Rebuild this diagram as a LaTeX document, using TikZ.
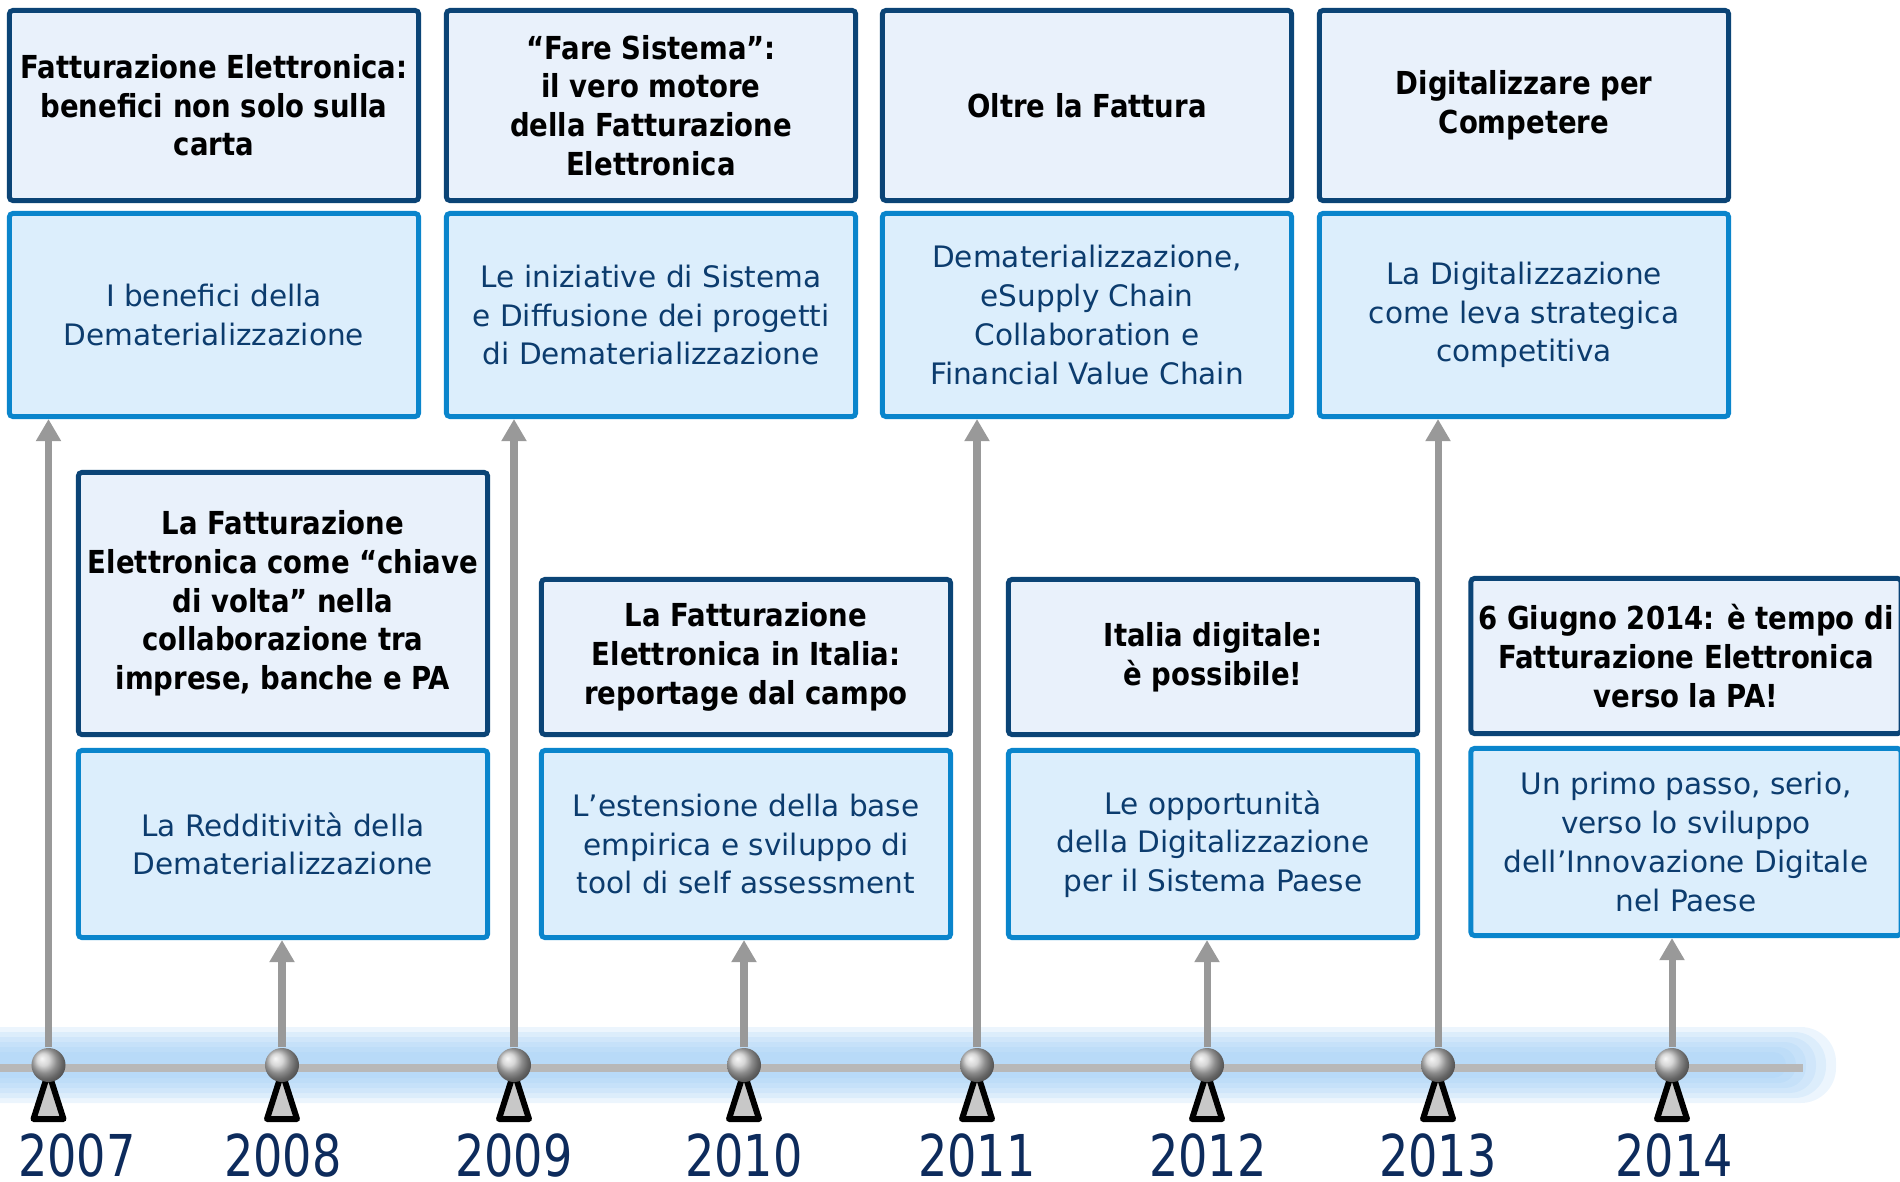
\documentclass[tikz,border=0pt]{standalone}
\usepackage{fontspec}
\setmainfont{DejaVu Sans}
\newfontfamily\titlefont[FakeStretch=0.87]{DejaVu Sans}
\newfontfamily\yearfont[FakeStretch=0.8]{DejaVu Sans}
\usepackage{tikz}
\usetikzlibrary{calc}
\usetikzlibrary{positioning}
\usetikzlibrary{arrows.meta}

\definecolor{darkedge}{HTML}{0B4476}
\definecolor{darkfill}{HTML}{E9F1FB}
\definecolor{lightedge}{HTML}{0A85CC}
\definecolor{lightfill}{HTML}{DCEEFC}
\definecolor{lighttext}{HTML}{0C3C6E}
\definecolor{yeartext}{HTML}{0D2B5C}
\definecolor{glowblue}{HTML}{9FCDF5}
\definecolor{axisgray}{HTML}{B8B8B8}
\definecolor{stemgray}{HTML}{999999}
\definecolor{footgray}{HTML}{C8C8C8}

\tikzset{
    headbox/.style={draw=darkedge, fill=darkfill, line width=1.4pt, rounded corners=1pt,
        minimum width=4.09cm, align=center, inner sep=1pt,
        font=\titlefont\bfseries\fontsize{9}{11}\selectfont},
    descbox/.style={draw=lightedge, fill=lightfill, line width=1.4pt, rounded corners=1pt,
        minimum width=4.09cm, align=center, inner sep=1pt, text=lighttext,
        font=\fontsize{8.4}{11}\selectfont},
    foot/.style={draw=black, fill=footgray, line width=1.7pt, line join=round},
}

\begin{document}
\begin{tikzpicture}[x=0.01cm, y=-0.01cm]
            \useasboundingbox (0,0) rectangle (1900,1182);

            % glow behind the axis
            \fill[glowblue, opacity=0.2, rounded corners=10pt] (-40,1027) rectangle (1836,1103);
            \fill[glowblue, opacity=0.2, rounded corners=9pt] (-40,1032) rectangle (1826,1098);
            \fill[glowblue, opacity=0.2, rounded corners=7.5pt] (-40,1037) rectangle (1816,1093);
            \fill[glowblue, opacity=0.2, rounded corners=6pt] (-40,1042) rectangle (1806,1088);
            \fill[glowblue, opacity=0.2, rounded corners=5pt] (-40,1047) rectangle (1796,1083);
            \fill[glowblue, opacity=0.2, rounded corners=3.5pt] (-40,1052) rectangle (1786,1078);

            \draw[axisgray, line width=2pt] (-10,1068) -- (1803,1068);

            % feet under the balls
            \draw[foot] (48.5,1072) -- (63.5,1119) -- (33.5,1119) -- cycle;
            \draw[foot] (282,1072) -- (297,1119) -- (267,1119) -- cycle;
            \draw[foot] (514,1072) -- (529,1119) -- (499,1119) -- cycle;
            \draw[foot] (744,1072) -- (759,1119) -- (729,1119) -- cycle;
            \draw[foot] (977,1072) -- (992,1119) -- (962,1119) -- cycle;
            \draw[foot] (1207,1072) -- (1222,1119) -- (1192,1119) -- cycle;
            \draw[foot] (1438,1072) -- (1453,1119) -- (1423,1119) -- cycle;
            \draw[foot] (1672,1072) -- (1687,1119) -- (1657,1119) -- cycle;

            \begin{scope}[every node/.style={circle, inner sep=0pt, minimum size=0.34cm, shading=ball, ball color=gray!42}]
                \node (b2007) at (48.5,1065) {};
                \node (b2008) at (282,1065) {};
                \node (b2009) at (514,1065) {};
                \node (b2010) at (744,1065) {};
                \node (b2011) at (977,1065) {};
                \node (b2012) at (1207,1065) {};
                \node (b2013) at (1438,1065) {};
                \node (b2014) at (1672,1065) {};
            \end{scope}

            \begin{scope}[every node/.style={inner sep=0pt, text=yeartext, font=\yearfont\fontsize{16.4}{18}\selectfont}]
                \node (y2007) at (77,1155) {2007};
                \node (y2008) at (283,1155) {2008};
                \node (y2009) at (514,1155) {2009};
                \node (y2010) at (744,1155) {2010};
                \node (y2011) at (977,1155) {2011};
                \node (y2012) at (1208,1155) {2012};
                \node (y2013) at (1438,1155) {2013};
                \node (y2014) at (1674,1155) {2014};
            \end{scope}

            % upper row
            \begin{scope}[every node/.style={headbox, minimum height=1.9cm}]
                \node (head2007) at (214,105.5) {Fatturazione Elettronica:\\benefici non solo sulla\\carta};
                \node (head2009) at (651,105.5) {“Fare Sistema”:\\il vero motore\\della Fatturazione\\Elettronica};
                \node (head2011) at (1087,105.5) {Oltre la Fattura};
                \node (head2013) at (1524,105.5) {Digitalizzare per\\Competere};
            \end{scope}
            \begin{scope}[every node/.style={descbox, minimum height=2.03cm}]
                \node (desc2007) at (214,315) {I benefici della\\Dematerializzazione};
                \node (desc2009) at (651,315) {Le iniziative di Sistema\\e Diffusione dei progetti\\di Dematerializzazione};
                \node (desc2011) at (1087,315) {Dematerializzazione,\\eSupply Chain\\Collaboration e\\Financial Value Chain};
                \node (desc2013) at (1524,315) {La Digitalizzazione\\come leva strategica\\competitiva};
            \end{scope}

            % lower row
            \begin{scope}[every node/.style={headbox, minimum height=1.55cm}]
                \node[minimum height=2.62cm] (head2008) at (283,603.5) {La Fatturazione\\Elettronica come “chiave\\di volta” nella\\collaborazione tra\\imprese, banche e PA};
                \node (head2010) at (746,657) {La Fatturazione\\Elettronica in Italia:\\reportage dal campo};
                \node (head2012) at (1213,657) {Italia digitale:\\è possibile!};
                \node[minimum width=4.3cm] (head2014) at (1686,656) {6 Giugno 2014: è tempo di\\Fatturazione Elettronica\\verso la PA!};
            \end{scope}
            \begin{scope}[every node/.style={descbox, minimum height=1.87cm}]
                \node (desc2008) at (283,844) {La Redditività della\\Dematerializzazione};
                \node (desc2010) at (746,844) {L’estensione della base\\empirica e sviluppo di\\tool di self assessment};
                \node (desc2012) at (1213,844) {Le opportunità\\della Digitalizzazione\\per il Sistema Paese};
                \node[minimum width=4.3cm] (desc2014) at (1686,842) {Un primo passo, serio,\\verso lo sviluppo\\dell’Innovazione Digitale\\nel Paese};
            \end{scope}

            \begin{scope}[every edge/.style={draw=stemgray, line width=2pt, -{Triangle[length=6.3pt,width=6.8pt]}}]
                \path (b2007) edge (b2007 |- desc2007.south);
                \path (b2009) edge (b2009 |- desc2009.south);
                \path (b2011) edge (b2011 |- desc2011.south);
                \path (b2013) edge (b2013 |- desc2013.south);
                \path (b2008) edge (b2008 |- desc2008.south);
                \path (b2010) edge (b2010 |- desc2010.south);
                \path (b2012) edge (b2012 |- desc2012.south);
                \path (b2014) edge (b2014 |- desc2014.south);
            \end{scope}
        \end{tikzpicture}
\end{document}
